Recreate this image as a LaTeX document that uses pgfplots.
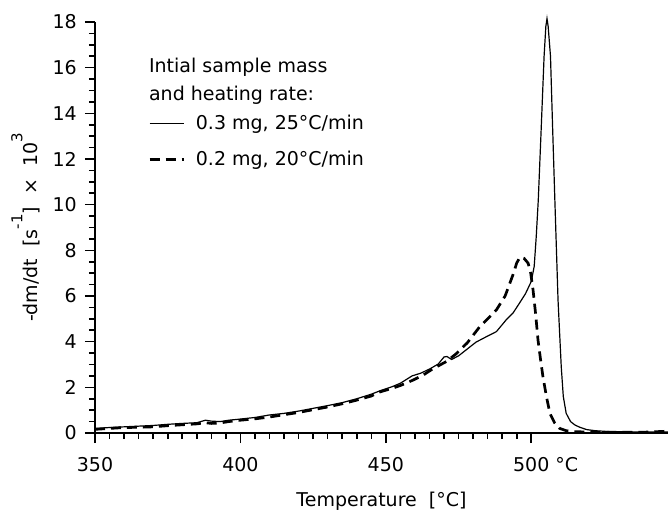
\documentclass[border=0pt]{standalone}
\usepackage{fontspec}
\setmainfont{DejaVu Sans}
\usepackage{pgfplots}
\pgfplotsset{compat=1.18}
\newcommand\fs{\fontsize{19bp}{23bp}\selectfont}
\newcommand\sups[1]{\raisebox{15bp}{\fontsize{15bp}{15bp}\selectfont #1}}
\begin{document}
\fs
\begin{tikzpicture}[font=\fs]
\begin{axis}[
  at={(0,0)}, anchor=south west,
  scale only axis, width=573bp, height=411bp,
  xmin=350, xmax=547, ymin=0, ymax=18,
  axis x line=bottom, axis y line=left,
  axis line style={-, line width=1.3bp},
  xtick align=outside, ytick align=outside,
  major tick length=10bp, minor tick length=6bp,
  tick style={black, line width=1.6bp},
  xtick={350,400,450,500}, xticklabels={350,400,450,{500\rlap{ °C}}},
  ytick={0,2,...,18},
  minor x tick num=9, minor y tick num=3,
  /pgf/number format/assume math mode=true,
  xticklabel style={anchor=base, inner sep=0pt, yshift=-28bp},
  yticklabel style={anchor=east, inner sep=0pt, xshift=-8bp},
  xlabel={Temperature\ \ [°C]},
  ylabel={-dm/dt\ \ [s\sups{-1}]\ \ ×\ \ 10\sups{3}},
  xlabel style={at={(axis description cs:0.5,0)}, anchor=base, inner sep=0pt, yshift=-73.7bp},
  ylabel style={at={(axis description cs:0,0.5)}, anchor=south, inner sep=0pt, yshift=55bp},
  clip=false,
  legend style={draw=none, fill=none, at={(axis description cs:0.0925,0.775)}, anchor=north west,
    inner sep=0pt, row sep=19bp, legend cell align=left,
    nodes={inner sep=0pt, text depth=3bp}},
  legend image code/.code={\draw[#1] (0bp,0bp) -- (34bp,0bp); \path (45bp,0bp);},
  legend columns=1,
]
\addplot[black, line width=1.2bp] coordinates {
(350,0.20) (355,0.24) (360,0.27) (365,0.30) (370,0.33) (375,0.38) (380,0.42) (385,0.45)
(388,0.56) (390,0.52) (393,0.50) (396,0.56) (400,0.61) (405,0.68) (410,0.79) (415,0.86)
(420,0.96) (425,1.08) (430,1.20) (435,1.33) (440,1.50) (445,1.70) (448,1.85) (452,2.02)
(455,2.18) (459,2.50) (462,2.62) (465,2.80) (468,3.02) (470,3.33) (471,3.35) (472.6,3.22)
(475,3.38) (478,3.68) (481,3.98) (484.6,4.22) (488,4.44) (491.4,4.96) (493.7,5.25) (496,5.70)
(498,6.10) (500,6.64) (501,7.3) (501.7,8.6) (502.4,10.2) (503.3,13.0) (504.4,16.5) (505.0,17.8)
(505.4,18.15) (505.8,17.8) (506.6,16.5) (507.3,13.5) (508.1,10.2) (509.2,5.8) (510.3,2.9)
(511,1.6) (512,0.86) (513.5,0.5) (515,0.35) (516.7,0.25) (519,0.15) (522,0.10) (527,0.06)
(535,0.05) (547,0.05)
};
\addlegendentry{0.3 mg, 25°C/min}
\addplot[black, line width=2.7bp, dash pattern=on 10bp off 6bp] coordinates {
(350,0.16) (355,0.20) (360,0.24) (365,0.25) (370,0.27) (375,0.32) (380,0.36) (385,0.40)
(388,0.45) (390,0.42) (393,0.44) (396,0.50) (400,0.56) (405,0.62) (410,0.70) (415,0.80)
(420,0.90) (425,1.02) (430,1.14) (435,1.28) (440,1.44) (445,1.62) (448,1.80) (452,1.95)
(455,2.08) (459.4,2.32) (463,2.55) (466,2.80) (470.8,3.13) (474,3.45) (478,3.95) (482.3,4.66)
(485,5.00) (488,5.39) (491,6.00) (493.7,6.93) (495,7.45) (496.1,7.70) (497.5,7.65) (498.9,7.44)
(499.8,7.0) (500.6,6.27) (501.5,5.2) (502.3,4.08) (503.2,3.2) (504,2.47) (505.2,1.6) (506.4,0.86)
(508,0.45) (509.8,0.20) (512,0.10) (514.4,0.06) (520,0.04) (530,0.03) (540,0.04) (547,0.08)
};
\addlegendentry{0.2 mg, 20°C/min}
\node[anchor=north west, align=left, inner sep=0pt] at (axis description cs:0.094,0.913)
  {Intial sample mass\\[5bp]and heating rate:};
\end{axis}
\pgfresetboundingbox
\useasboundingbox (-95bp,-79bp) rectangle (573bp,433bp);
\end{tikzpicture}
\end{document}
